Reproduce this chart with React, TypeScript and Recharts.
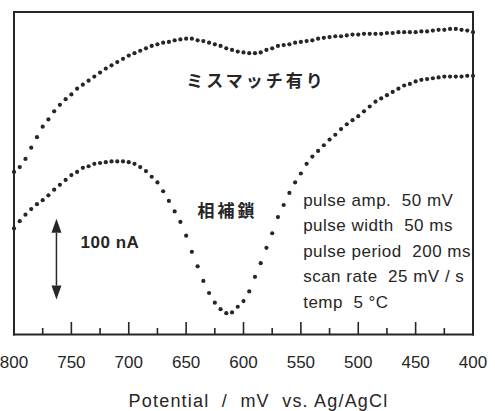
import { LineChart, Line, XAxis, YAxis, ReferenceDot, ReferenceLine } from "recharts"

// potential sweep, mV vs. Ag/AgCl (plotted high -> low)
const potentials = [
    800, 795, 790, 785, 780, 775, 770, 765, 760, 755,
    750, 745, 740, 735, 730, 725, 720, 715, 710, 705,
    700, 695, 690, 685, 680, 675, 670, 665, 660, 655,
    650, 645, 640, 635, 630, 625, 620, 615, 610, 605,
    600, 595, 590, 585, 580, 575, 570, 565, 560, 555,
    550, 545, 540, 535, 530, 525, 520, 515, 510, 505,
    500, 495, 490, 485, 480, 475, 470, 465, 460, 455,
    450, 445, 440, 435, 430, 425, 420, 415, 410, 405,
    400,
]

// ミスマッチ有り (upper trace), nA on an arbitrary baseline
const mismatch = [
    202, 208, 218, 232, 245, 258, 267, 277, 285, 292,
    298, 305, 310, 315, 320, 325, 330, 334, 338, 342,
    346, 349, 352, 355, 358, 360, 362, 363, 365, 366,
    367, 367, 365, 364, 362, 360, 358, 355, 353, 351,
    350, 349, 349, 350, 353, 355, 358, 359, 360, 362,
    363, 364, 365, 367, 368, 369, 370, 370, 371, 372,
    372, 373, 373, 373, 373, 374, 374, 375, 375, 375,
    375, 376, 376, 377, 378, 378, 379, 379, 378, 377,
    375,
]

// 相補鎖 (lower trace)
const complementary = [
    132, 141, 149, 156, 162, 167, 173, 180, 186, 192,
    198, 202, 207, 209, 212, 213, 214, 215, 215, 215,
    214, 212, 208, 203, 196, 189, 178, 166, 153, 140,
    123, 103, 85, 67, 52, 40, 32, 27, 28, 35,
    42, 54, 72, 89, 108, 126, 146, 161, 176, 189,
    200, 212, 221, 228, 235, 242, 248, 255, 261, 266,
    271, 277, 283, 289, 293, 297, 301, 305, 309, 311,
    314, 316, 317, 318, 319, 320, 320, 320, 320, 321,
    321,
]

const xTicks = [800, 775, 750, 725, 700, 675, 650, 625, 600, 575, 550, 525, 500, 475, 450, 425, 400]

const conditions = [
    "pulse amp.  50 mV",
    "pulse width  50 ms",
    "pulse period  200 ms",
    "scan rate  25 mV / s",
    "temp  5 °C",
]

// the box spans 400-800 mV and 0-400 nA; the axes run a hair wider so
// the box edges do not sit on the domain limits
const BOX_X: [number, number] = [400, 800]
const BOX_Y: [number, number] = [0.5, 400]
const X_DOMAIN: [number, number] = [398, 802]
const Y_DOMAIN: [number, number] = [0, 402]

const INK = "#262626"
const SANS = "'Liberation Sans', Arial, sans-serif"
const JP = "'Noto Sans CJK JP', sans-serif"

const chartData = potentials.map((mv, i) => ({
    mv,
    mismatch: mismatch[i],
    complementary: complementary[i],
}))

// ticks point inward; labels only on the 50 mV marks
function PotentialTick({ x, y, payload }: any) {
    const v = payload.value
    const major = v % 50 === 0
    const len = major ? 13 : 7
    return (
        <g>
            {v !== BOX_X[0] && v !== BOX_X[1] && (
                <line x1={x} x2={x} y1={y} y2={y - len} stroke={INK} strokeWidth={1.6} />
            )}
            {major && (
                <text x={x} y={y + 33} textAnchor="middle" fontSize={17} fontFamily={SANS} fill={INK}>
                    {v}
                </text>
            )}
        </g>
    )
}

function AxisTitle({ viewBox }: any) {
    const { x, y, width } = viewBox
    return (
        <text
            x={x + width / 2 + 15}
            y={y + 72}
            textAnchor="middle"
            fontSize={18}
            letterSpacing={1.2}
            fontFamily={SANS}
            fill={INK}
            style={{ whiteSpace: "pre" }}
        >
            Potential  /  mV  vs. Ag/AgCl
        </text>
    )
}

function FrameEdge({ x1, y1, x2, y2 }: any) {
    return <line x1={x1} y1={y1} x2={x2} y2={y2} stroke={INK} strokeWidth={2} strokeLinecap="square" />
}

function ScaleArrow({ x1, y1, y2 }: any) {
    const top = Math.min(y1, y2)
    const bottom = Math.max(y1, y2)
    const head = 14
    const half = 5
    return (
        <g>
            <line x1={x1} x2={x1} y1={top + head} y2={bottom - head} stroke={INK} strokeWidth={1.5} />
            <polygon points={`${x1},${top} ${x1 - half},${top + head} ${x1 + half},${top + head}`} fill={INK} />
            <polygon points={`${x1},${bottom} ${x1 - half},${bottom - head} ${x1 + half},${bottom - head}`} fill={INK} />
        </g>
    )
}

const textAt = (text: string, opts: any) => (p: any) => (
    <text x={p.cx} y={p.cy} fill={INK} dominantBaseline="central" {...opts}>
        {text}
    </text>
)

function ConditionsBlock(p: any) {
    return (
        <text x={p.cx} y={p.cy} fontSize={17} letterSpacing={0.5} fontFamily={SANS} fill={INK} style={{ whiteSpace: "pre" }}>
            {conditions.map((line, i) => (
                <tspan key={line} x={p.cx} dy={i === 0 ? 0 : 25.5}>
                    {line}
                </tspan>
            ))}
        </text>
    )
}

export default function App() {
    return (
        <div style={{ position: "absolute", left: 0, top: 0, background: "#fff" }}>
            <LineChart width={495} height={411} data={chartData} margin={{ top: 10.4, right: 19.7, left: 11.7, bottom: 0 }}>
                <XAxis
                    dataKey="mv"
                    type="number"
                    domain={X_DOMAIN}
                    allowDataOverflow
                    reversed
                    ticks={xTicks}
                    interval={0}
                    tick={<PotentialTick />}
                    tickLine={false}
                    tickSize={0}
                    tickMargin={0}
                    axisLine={false}
                    height={76}
                    label={<AxisTitle />}
                />
                <YAxis type="number" domain={Y_DOMAIN} allowDataOverflow hide />

                {/* box frame, one edge at a time */}
                <ReferenceLine
                    segment={[{ x: BOX_X[1], y: BOX_Y[0] }, { x: BOX_X[0], y: BOX_Y[0] }]}
                    shape={<FrameEdge />}
                    ifOverflow="visible"
                />
                <ReferenceLine
                    segment={[{ x: BOX_X[1], y: BOX_Y[0] }, { x: BOX_X[1], y: BOX_Y[1] }]}
                    shape={<FrameEdge />}
                    ifOverflow="visible"
                />
                <ReferenceLine
                    segment={[{ x: BOX_X[1], y: BOX_Y[1] }, { x: BOX_X[0], y: BOX_Y[1] }]}
                    shape={<FrameEdge />}
                    ifOverflow="visible"
                />
                <ReferenceLine
                    segment={[{ x: BOX_X[0], y: BOX_Y[1] }, { x: BOX_X[0], y: BOX_Y[0] }]}
                    shape={<FrameEdge />}
                    ifOverflow="visible"
                />

                <Line
                    dataKey="mismatch"
                    stroke="none"
                    dot={{ r: 2.1, fill: INK, stroke: "none" }}
                    activeDot={false}
                    isAnimationActive={false}
                />
                <Line
                    dataKey="complementary"
                    stroke="none"
                    dot={{ r: 2.1, fill: INK, stroke: "none" }}
                    activeDot={false}
                    isAnimationActive={false}
                />

                {/* 100 nA scale bar */}
                <ReferenceLine
                    segment={[{ x: 763, y: 44 }, { x: 763, y: 144 }]}
                    shape={<ScaleArrow />}
                    ifOverflow="visible"
                />
                <ReferenceDot
                    x={742}
                    y={114}
                    r={0}
                    shape={textAt("100 nA", { fontSize: 17, fontWeight: "bold", letterSpacing: 0.5, fontFamily: SANS })}
                />

                <ReferenceDot
                    x={589}
                    y={316}
                    r={0}
                    shape={textAt("ミスマッチ有り", { fontSize: 17, fontWeight: "bold", letterSpacing: 3, textAnchor: "middle", fontFamily: JP })}
                />
                <ReferenceDot
                    x={614}
                    y={155}
                    r={0}
                    shape={textAt("相補鎖", { fontSize: 17, fontWeight: "bold", letterSpacing: 3, textAnchor: "middle", fontFamily: JP })}
                />
                <ReferenceDot x={548} y={160} r={0} shape={ConditionsBlock} />
            </LineChart>
        </div>
    )
}
